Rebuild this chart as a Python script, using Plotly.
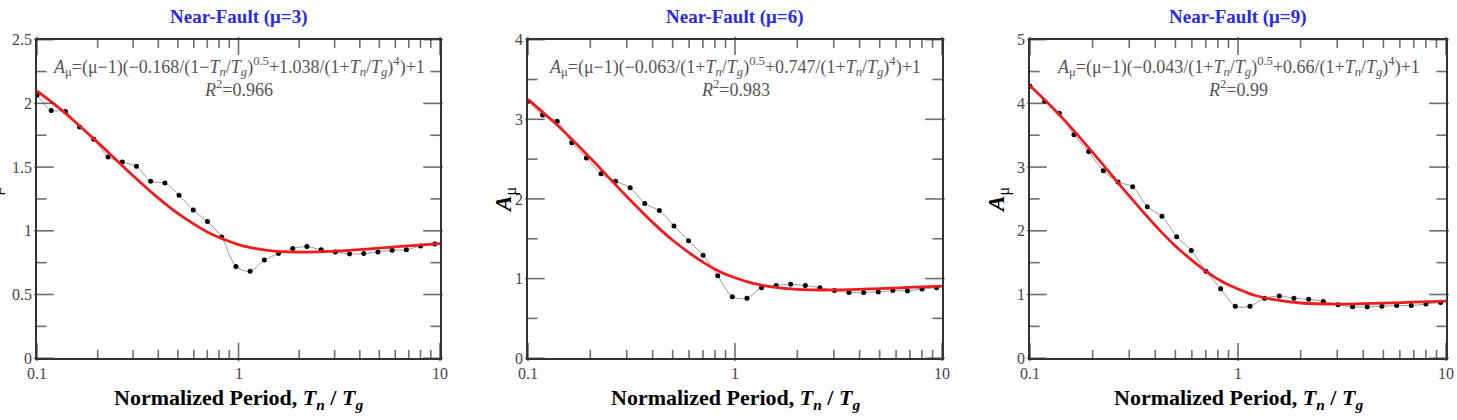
import math
import plotly.graph_objects as go

# ---------------- data ----------------
periods = [0.100, 0.1176, 0.1384, 0.1627, 0.1914, 0.2252, 0.2649, 0.3115, 0.3664,
           0.4310, 0.5070, 0.5964, 0.7015, 0.8252, 0.9705, 1.142, 1.343, 1.579,
           1.858, 2.185, 2.570, 3.023, 3.556, 4.183, 4.920, 5.788, 6.808, 8.008, 9.419]

a_mu3 = [2.065, 1.945, 1.937, 1.815, 1.719, 1.580, 1.540, 1.506, 1.388, 1.375,
         1.279, 1.163, 1.072, 0.951, 0.720, 0.683, 0.770, 0.821, 0.861, 0.876,
         0.851, 0.834, 0.818, 0.821, 0.834, 0.848, 0.851, 0.881, 0.896]
a_mu6 = [3.228, 3.055, 2.975, 2.707, 2.515, 2.315, 2.222, 2.142, 1.942, 1.854,
         1.661, 1.474, 1.294, 1.037, 0.772, 0.753, 0.885, 0.913, 0.929, 0.913,
         0.885, 0.849, 0.825, 0.825, 0.833, 0.849, 0.845, 0.869, 0.885]
a_mu9 = [4.270, 4.034, 3.844, 3.509, 3.243, 2.943, 2.767, 2.692, 2.377, 2.227,
         1.907, 1.692, 1.366, 1.092, 0.815, 0.815, 0.941, 0.976, 0.941, 0.926,
         0.891, 0.841, 0.806, 0.806, 0.815, 0.826, 0.826, 0.851, 0.876]

fit_periods = [0.1, 0.125, 0.15, 0.2, 0.3, 0.4, 0.5, 0.7, 0.85, 1.0, 1.2, 1.5, 2.0, 3.0, 5.0, 7.0, 10.0]
fit_mu3 = [2.098, 1.98, 1.874, 1.694, 1.432, 1.256, 1.136, 0.991, 0.932, 0.892, 0.862, 0.841, 0.832, 0.840, 0.864, 0.882, 0.899]
fit_mu6 = [3.251, 3.03, 2.842, 2.514, 2.031, 1.706, 1.481, 1.206, 1.082, 1.011, 0.947, 0.896, 0.864, 0.857, 0.874, 0.889, 0.905]
fit_mu9 = [4.278, 3.97, 3.698, 3.232, 2.547, 2.084, 1.762, 1.368, 1.192, 1.087, 0.988, 0.918, 0.867, 0.849, 0.864, 0.880, 0.897]

titles = ["Near-Fault (μ=3)", "Near-Fault (μ=6)", "Near-Fault (μ=9)"]
formulas = [
    "<i>A</i><sub>μ</sub>=(μ−1)(−0.168/(1−<i>T<sub>n</sub></i>/<i>T<sub>g</sub></i>)<sup>0.5</sup>+1.038/(1+<i>T<sub>n</sub></i>/<i>T<sub>g</sub></i>)<sup>4</sup>)+1",
    "<i>A</i><sub>μ</sub>=(μ−1)(−0.063/(1+<i>T<sub>n</sub></i>/<i>T<sub>g</sub></i>)<sup>0.5</sup>+0.747/(1+<i>T<sub>n</sub></i>/<i>T<sub>g</sub></i>)<sup>4</sup>)+1",
    "<i>A</i><sub>μ</sub>=(μ−1)(−0.043/(1+<i>T<sub>n</sub></i>/<i>T<sub>g</sub></i>)<sup>0.5</sup>+0.66/(1+<i>T<sub>n</sub></i>/<i>T<sub>g</sub></i>)<sup>4</sup>)+1",
]
r2_labels = ["<i>R</i><sup>2</sup>=0.966", "<i>R</i><sup>2</sup>=0.983", "<i>R</i><sup>2</sup>=0.99"]
y_ranges = [[0, 2.5], [0, 4], [0, 5]]
y_dticks = [0.5, 1, 1]
y_minor = [0.25, 0.5, 0.5]
x_tick_vals = [0.1, 1, 10]
x_tick_text = ["0.1", "1", "10"]
x_minor_vals = [0.2, 0.3, 0.4, 0.5, 0.6, 0.7, 0.8, 0.9, 2, 3, 4, 5, 6, 7, 8, 9]

# ---------------- layout geometry ----------------
W, H = 1457, 420
x_px = [(37, 440), (528, 942), (1030, 1446)]
y_top, y_bot = 33, 365
serif = "Liberation Serif, Times New Roman, serif"
TICK = "#333333"
X_RANGE_LOG = [-1, 1]

fig = go.Figure()
data_sets = [a_mu3, a_mu6, a_mu9]
fit_sets = [fit_mu3, fit_mu6, fit_mu9]

layout = dict(width=W, height=H, margin=dict(l=0, r=0, t=0, b=0),
              paper_bgcolor="white", plot_bgcolor="white", showlegend=False)
annotations = []

for i in range(3):
    sfx = "" if i == 0 else str(i + 1)
    xr, yr = "x" + sfx, "y" + sfx
    x0, x1 = x_px[i]
    ymin, ymax = y_ranges[i]
    plot_w = x1 - x0
    plot_h = y_bot - y_top
    dy_per_px = (ymax - ymin) / plot_h
    dlogx_per_px = (X_RANGE_LOG[1] - X_RANGE_LOG[0]) / plot_w

    fig.add_trace(go.Scatter(x=periods, y=data_sets[i], mode="lines+markers",
                             line=dict(color="#999999", width=1, shape="spline", smoothing=0.8),
                             marker=dict(color="black", size=5),
                             xaxis=xr, yaxis=yr, showlegend=False))
    fig.add_trace(go.Scatter(x=fit_periods, y=fit_sets[i], mode="lines",
                             line=dict(color="#ee1c1c", width=2.8, shape="spline", smoothing=1.0),
                             xaxis=xr, yaxis=yr, showlegend=False))

    # ---- tick marks drawn as line-shaped markers centred half a tick inside the frame ----
    vx, vy, vs = [], [], []
    for vals, ln in ((x_tick_vals, 13), (x_minor_vals, 7)):
        for v in vals:
            vx += [v, v]
            vy += [ymin + ln / 2 * dy_per_px, ymax - ln / 2 * dy_per_px]
            vs += [ln, ln]
    fig.add_trace(go.Scatter(x=vx, y=vy, mode="markers",
                             marker=dict(symbol="line-ns", size=vs, color=TICK,
                                         line=dict(color=TICK, width=1.6)),
                             xaxis=xr, yaxis=yr, showlegend=False, hoverinfo="skip",
                             cliponaxis=False))
    hx, hy, hs = [], [], []
    n_minor = int(round((ymax - ymin) / y_minor[i]))
    xl, xrt = 10 ** X_RANGE_LOG[0], 10 ** X_RANGE_LOG[1]
    for k in range(n_minor + 1):
        v = ymin + k * y_minor[i]
        ratio = k * y_minor[i] / y_dticks[i]
        ln = 14 if abs(ratio - round(ratio)) < 1e-9 else 8
        hx += [xl * 10 ** (ln / 2 * dlogx_per_px), xrt / 10 ** (ln / 2 * dlogx_per_px)]
        hy += [v, v]
        hs += [ln, ln]
    fig.add_trace(go.Scatter(x=hx, y=hy, mode="markers",
                             marker=dict(symbol="line-ew", size=hs, color=TICK,
                                         line=dict(color=TICK, width=1.6)),
                             xaxis=xr, yaxis=yr, showlegend=False, hoverinfo="skip",
                             cliponaxis=False))

    layout["xaxis" + sfx] = dict(
        type="log", range=X_RANGE_LOG, domain=[x0 / W, x1 / W], anchor=yr,
        showticklabels=False, ticks="",
        showline=True, linecolor=TICK, linewidth=1.5, mirror=True,
        showgrid=False, zeroline=False,
    )
    layout["yaxis" + sfx] = dict(
        range=y_ranges[i], domain=[(H - y_bot) / H, (H - y_top) / H], anchor=xr,
        tickmode="linear", dtick=y_dticks[i], tick0=0, ticks="",
        showline=True, linecolor=TICK, linewidth=1.5, mirror=True,
        showgrid=False, zeroline=False,
        tickfont=dict(family=serif, size=16, color="#444444"),
    )

    for v, t in zip(x_tick_vals, x_tick_text):
        annotations.append(dict(text=t, x=math.log10(v), y=1 - 381 / H, xref=xr, yref="paper",
                                xanchor="center", yanchor="middle", showarrow=False,
                                font=dict(family=serif, size=16, color="#444444")))
    cx = (x0 + x1) / 2 / W
    annotations.append(dict(text="<b>" + titles[i] + "</b>", x=cx, y=1 - 9 / H, xref="paper", yref="paper",
                            xanchor="center", yanchor="middle", showarrow=False,
                            font=dict(family=serif, size=19, color="#2a2aee")))
    annotations.append(dict(text=formulas[i], x=cx, y=1 - 61 / H, xref="paper", yref="paper",
                            xanchor="center", yanchor="middle", showarrow=False,
                            font=dict(family=serif, size=18, color="#555555")))
    annotations.append(dict(text=r2_labels[i], x=cx, y=1 - 84 / H, xref="paper", yref="paper",
                            xanchor="center", yanchor="middle", showarrow=False,
                            font=dict(family=serif, size=18, color="#555555")))
    annotations.append(dict(text="<b>Normalized Period, <i>T<sub>n</sub></i> / <i>T<sub>g</sub></i></b>",
                            x=cx, y=1 - 408 / H, xref="paper", yref="paper",
                            xanchor="center", yanchor="middle", showarrow=False,
                            font=dict(family=serif, size=22, color="black")))
    ylab_x = [-9, 506, 999][i]
    annotations.append(dict(text="<b><i>A</i></b><sub>μ</sub>", x=ylab_x / W, y=1 - 200 / H,
                            xref="paper", yref="paper", textangle=-90,
                            xanchor="center", yanchor="middle", showarrow=False,
                            font=dict(family=serif, size=23, color="black")))

layout["annotations"] = annotations
fig.update_layout(**layout)
fig.write_html("out.html")
